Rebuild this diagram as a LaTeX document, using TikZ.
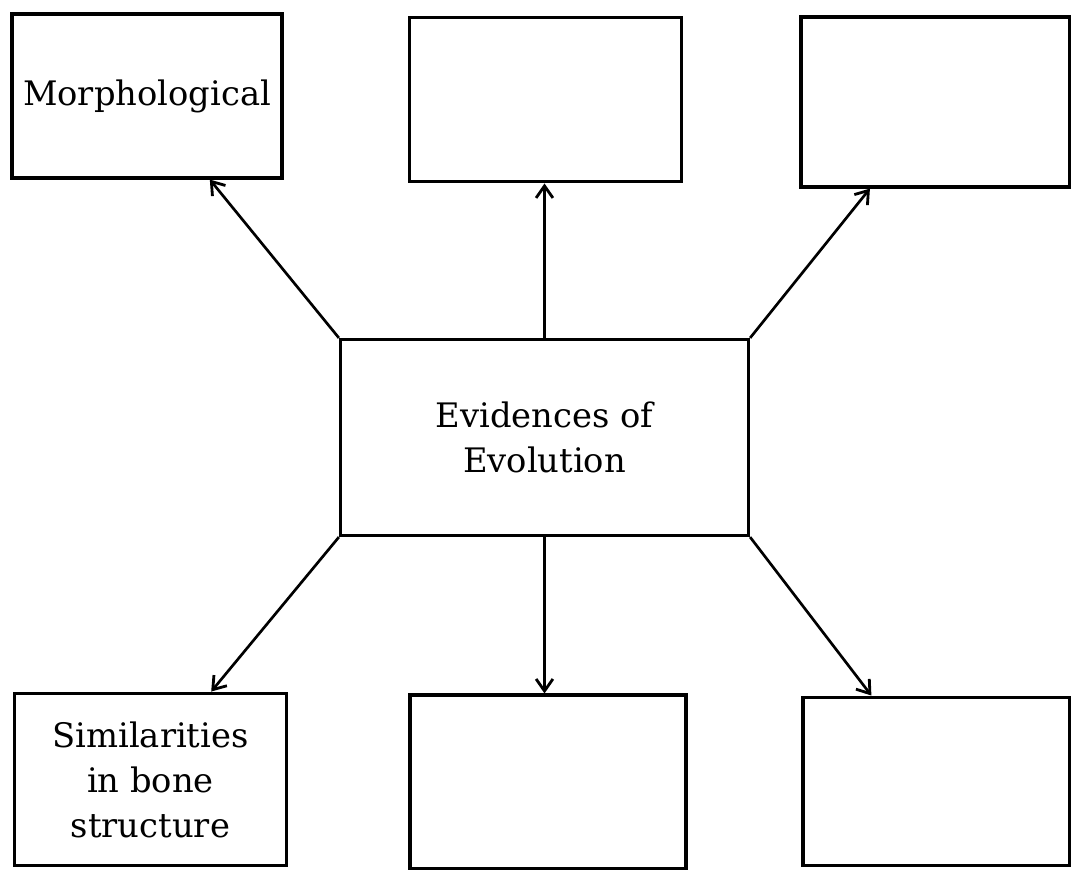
\documentclass[tikz,border=0pt]{standalone}
\usepackage{amsmath}
\usepackage{fontspec}
\setmainfont{DejaVu Serif}
\usepackage{tikz}
\usetikzlibrary{arrows.meta}
\usetikzlibrary{calc}

\begin{document}
\begin{tikzpicture}[x=0.025cm, y=-0.025cm,
    box/.style={draw, line width=2.2pt, inner sep=0pt, align=center,
        font=\fontsize{24}{32}\selectfont},
    link/.style={-{Straight Barb[length=3mm, width=4.2mm, line width=2pt]}, line width=1.9pt}]
    \useasboundingbox (0,0) rectangle (1072,869);

    % Centre box
    \node[box, minimum width=10.2cm, minimum height=4.9cm] (evid) at (544.5, 437.5) {Evidences of\\Evolution};

    % Top row of boxes
    \node[box, minimum width=6.75cm, minimum height=4.1cm] (morph) at (147, 96) {Morphological};
    \node[box, minimum width=6.78cm, minimum height=4.12cm] (topmid) at (545.5, 99.5) {};
    \node[box, minimum width=6.7cm, minimum height=4.25cm] (topright) at (935, 102) {};

    % Bottom row of boxes
    \node[box, minimum width=6.82cm, minimum height=4.32cm] (bone) at (150.5, 779.5) {Similarities\\in bone\\structure};
    \node[box, minimum width=6.9cm, minimum height=4.35cm] (botmid) at (548, 782) {};
    \node[box, minimum width=6.65cm, minimum height=4.22cm] (botright) at (936, 781.5) {};

    % Arrows out of the centre box
    \draw[link] (evid.north west) -- ($(morph.south west)!0.73!(morph.south east)$);
    \draw[link] (evid.north) -- (evid.north |- topmid.south);
    \draw[link] (evid.north east) -- ($(topright.south west)!0.26!(topright.south east)$);
    \draw[link] (evid.south west) -- ($(bone.north west)!0.72!(bone.north east)$);
    \draw[link] (evid.south) -- (evid.south |- botmid.north);
    \draw[link] (evid.south east) -- ($(botright.north west)!0.26!(botright.north east)$);
\end{tikzpicture}
\end{document}
